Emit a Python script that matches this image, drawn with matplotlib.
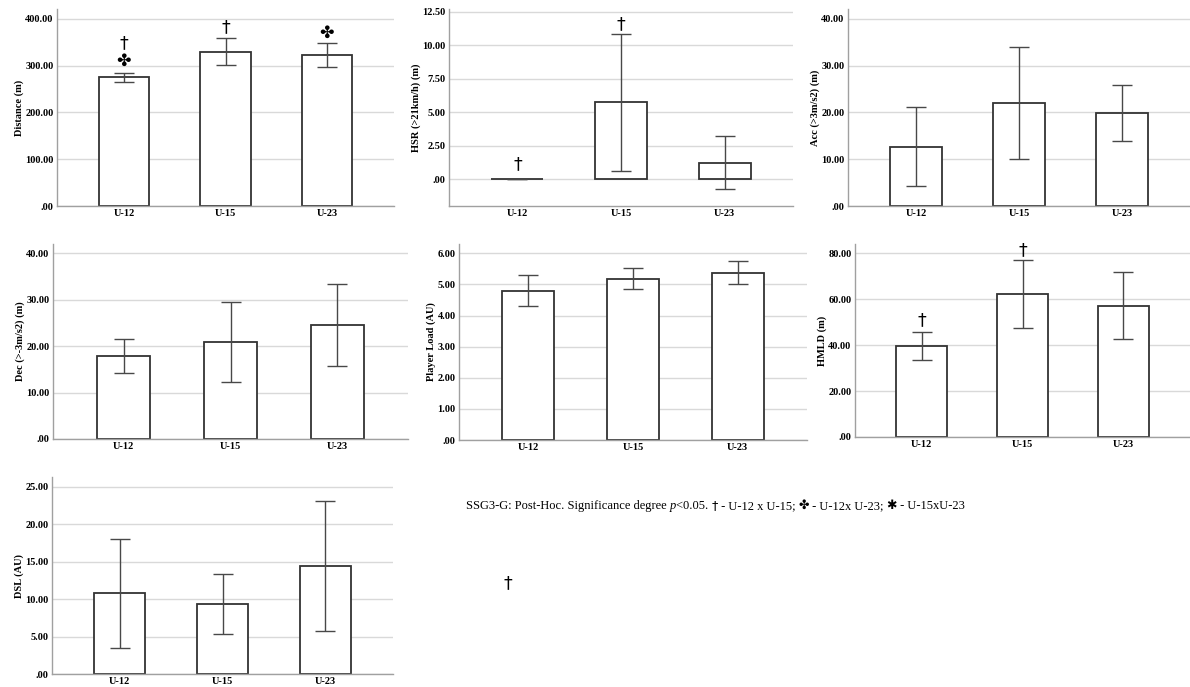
import matplotlib
matplotlib.use("Agg")
import matplotlib.pyplot as plt
from matplotlib.ticker import FuncFormatter

plt.rcParams['font.family'] = ['Liberation Serif', 'DejaVu Sans']

# ============================================================
# DATA
# ============================================================

groups = ["U-12", "U-15", "U-23"]

distance_mean = [275.0, 330.0, 323.0]
distance_err  = [10.0, 29.0, 25.0]
hsr_mean      = [0.0, 5.75, 1.25]
hsr_err       = [0.0, 5.10, 1.96]
acc_mean      = [12.7, 22.0, 19.9]
acc_err       = [8.4, 11.9, 6.0]
dec_mean      = [17.85, 20.95, 24.5]
dec_err       = [3.7, 8.65, 8.8]
pl_mean       = [4.80, 5.18, 5.38]
pl_err        = [0.50, 0.335, 0.37]
hmld_mean     = [39.6, 62.4, 57.2]
hmld_err      = [6.3, 14.8, 14.5]
dsl_mean      = [10.76, 9.37, 14.48]
dsl_err       = [7.23, 4.02, 8.68]

DAGGER = "\u2020"
CLUB   = "\u2724"
STAR   = "\u2731"

# (group index, symbol, y in data units)
distance_sig = [(0, DAGGER, 348), (0, CLUB, 310), (1, DAGGER, 382), (2, CLUB, 370)]
hsr_sig      = [(0, DAGGER, 1.12), (1, DAGGER, 11.6)]
hmld_sig     = [(0, DAGGER, 50.9), (1, DAGGER, 81.4)]

# ============================================================
# PANELS: pixel box (left, top, right, bottom), ylim, ticks
# ============================================================

W, H = 1190, 687

panels = [
    ("Distance (m)",         distance_mean, distance_err, distance_sig,
     (57, 9, 394, 206),     (0, 421),      [0, 100, 200, 300, 400]),
    ("HSR (>21km/h) (m)",    hsr_mean, hsr_err, hsr_sig,
     (449, 9, 793, 206),    (-2.0, 12.72), [0, 2.5, 5, 7.5, 10, 12.5]),
    ("Acc (>3m/s2) (m)",     acc_mean, acc_err, [],
     (848, 9, 1190, 206),   (0, 42.1),     [0, 10, 20, 30, 40]),
    ("Dec (>-3m/s2) (m)",    dec_mean, dec_err, [],
     (53, 244, 408, 439),   (0, 42.0),     [0, 10, 20, 30, 40]),
    ("Player Load (AU)",     pl_mean, pl_err, [],
     (459, 244, 807, 440),  (0, 6.3),      [0, 1, 2, 3, 4, 5, 6]),
    ("HMLD (m)",             hmld_mean, hmld_err, hmld_sig,
     (855, 244, 1190, 437), (0, 84),       [0, 20, 40, 60, 80]),
    ("DSL (AU)",             dsl_mean, dsl_err, [],
     (52, 477, 393, 674),   (0, 26.3),     [0, 5, 10, 15, 20, 25]),
]


def spss_fmt(v, pos=None):
    s = f"{v:.2f}"
    if s.startswith("0."):
        s = s[1:]
    return s


fig = plt.figure(figsize=(W / 100, H / 100), dpi=100)
fig.patch.set_facecolor("white")

x = list(range(len(groups)))

for label, mean, err, sig, box, ylim, ticks in panels:
    l, t, r, b = box
    ax = fig.add_axes([l / W, 1 - b / H, (r - l) / W, (b - t) / H])
    ax.set_axisbelow(True)
    ax.grid(axis="y", color="#d9d9d9", linewidth=1.0)
    ax.bar(x, mean, width=0.5, color="white", edgecolor="#333333",
           linewidth=1.3, zorder=2)
    ax.errorbar(x, mean, yerr=err, fmt="none", ecolor="#484848",
                elinewidth=1.0, capsize=7, capthick=1.0, zorder=3)
    for gi, sym, yy in sig:
        ax.text(gi, yy, sym, ha="center", va="center", fontsize=12.5,
                family=["DejaVu Sans"], color="black", zorder=4)

    ax.set_xlim(-0.66, 2.66)
    ax.set_ylim(*ylim)
    ax.set_yticks(ticks)
    ax.yaxis.set_major_formatter(FuncFormatter(spss_fmt))
    ax.set_xticks(x)
    ax.set_xticklabels(groups)
    ax.tick_params(length=0, labelsize=7.5, pad=2.5)
    for lab in ax.get_xticklabels() + ax.get_yticklabels():
        lab.set_fontweight("bold")
    ax.set_ylabel(label, fontsize=7.5, fontweight="bold", labelpad=1)

    for side in ["top", "right"]:
        ax.spines[side].set_visible(False)
    for side in ["left", "bottom"]:
        ax.spines[side].set_color("#a0a0a0")
        ax.spines[side].set_linewidth(1.0)

# ============================================================
# NOTE  (pieces chained one after the other)
# ============================================================

note_size = 9
serif = ["Liberation Serif", "DejaVu Sans"]
sym_font = ["DejaVu Sans"]
note_pieces = [
    ("SSG3-G: Post-Hoc. Significance degree ", "normal", serif, note_size),
    ("p", "italic", serif, note_size),
    ("<0.05. ", "normal", serif, note_size),
    (DAGGER, "normal", sym_font, note_size),
    (" - U-12 x U-15; ", "normal", serif, note_size),
    (CLUB, "normal", sym_font, note_size),
    (" - U-12x U-23; ", "normal", serif, note_size),
    (STAR, "normal", sym_font, note_size),
    (" - U-15xU-23", "normal", serif, note_size),
]

prev = None
for txt, style, fam, size in note_pieces:
    if prev is None:
        prev = fig.text(466 / W, 1 - 512 / H, txt, fontsize=size, style=style,
                        family=fam, va="bottom", ha="left")
    else:
        prev = fig.add_artist(plt.matplotlib.text.Annotation(
            txt, xy=(1, 0), xycoords=prev, va="bottom", ha="left",
            fontsize=size, style=style, family=fam))

fig.text(508 / W, 1 - 583 / H, DAGGER, fontsize=12.5, ha="center", va="center",
         family=sym_font)

plt.savefig("out.png", dpi=100)
